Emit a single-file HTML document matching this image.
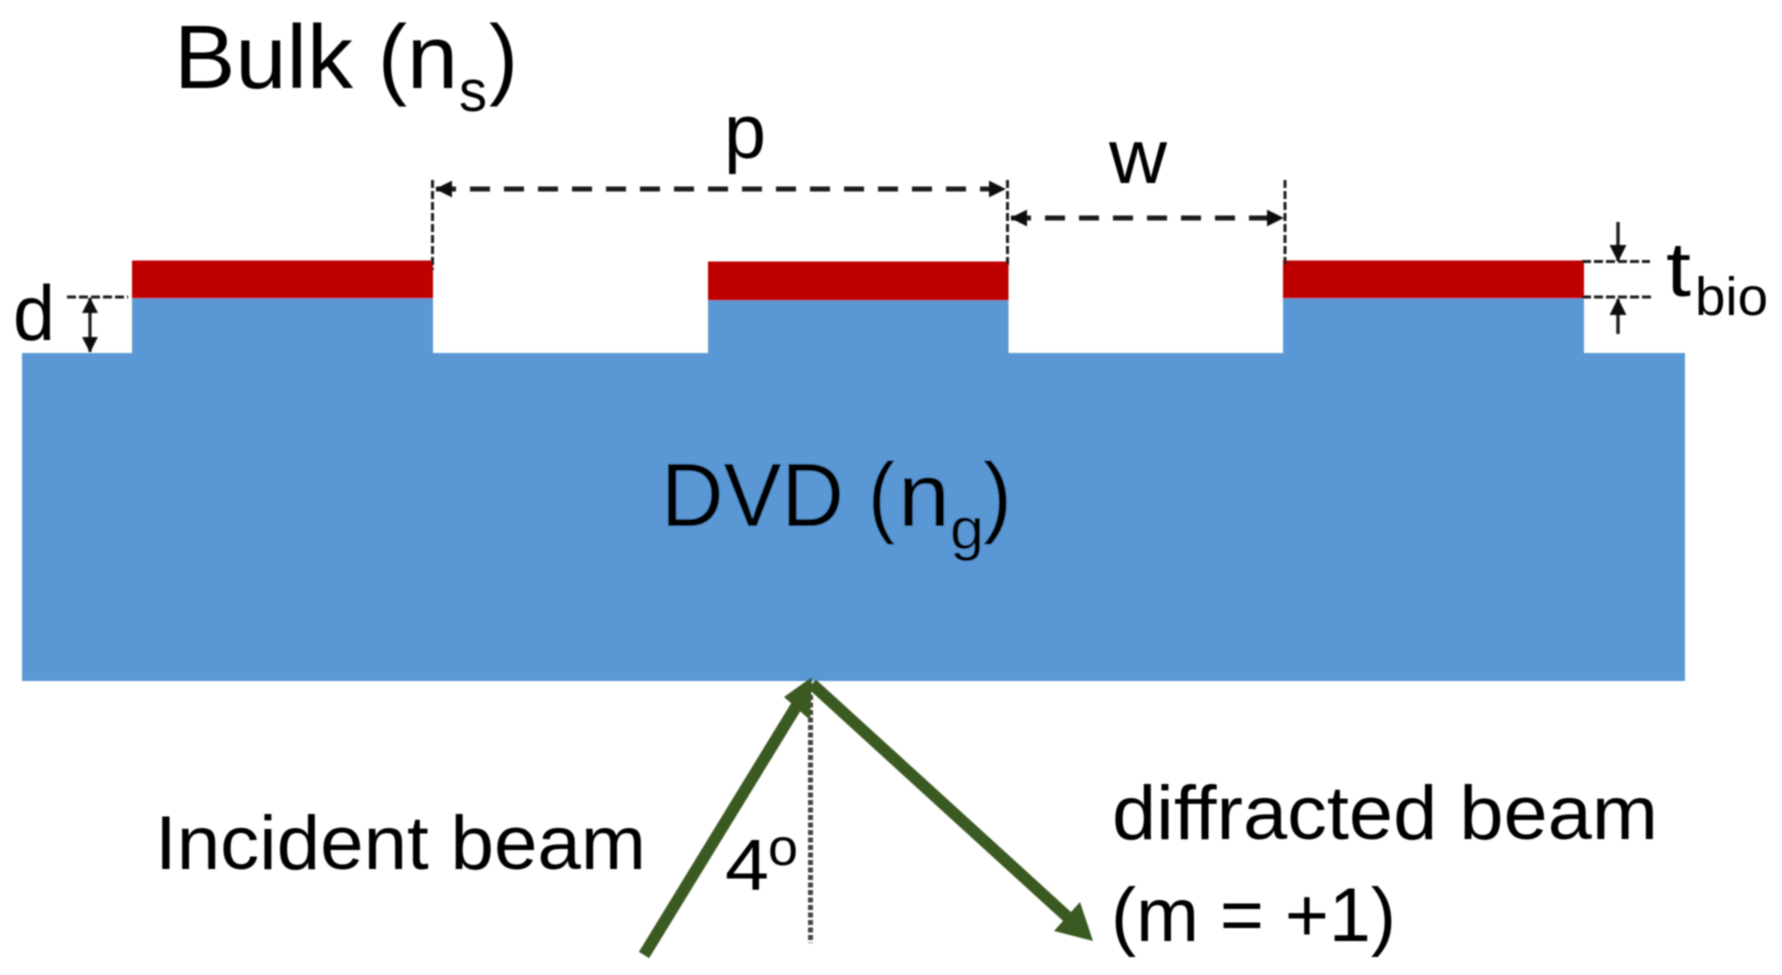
<!DOCTYPE html>
<html>
<head>
<meta charset="utf-8">
<style>
html,body{margin:0;padding:0;background:#fff;width:1782px;height:975px;overflow:hidden}
svg{display:block}
text{font-family:"Liberation Sans",sans-serif;fill:#000}
</style>
</head>
<body>
<svg width="1782" height="975" viewBox="0 0 1782 975" xmlns="http://www.w3.org/2000/svg">
<defs>
<filter id="b" x="-5%" y="-5%" width="110%" height="110%"><feGaussianBlur stdDeviation="0.7"/></filter>
<marker id="ah" viewBox="0 0 10 10" refX="9.5" refY="5" markerWidth="3.4" markerHeight="3.4" orient="auto-start-reverse"><path d="M0 0L10 5L0 10Z" fill="#111"/></marker>
<marker id="as" viewBox="0 0 10 10" refX="9.5" refY="5" markerWidth="5" markerHeight="5" orient="auto-start-reverse"><path d="M0 0L10 5L0 10Z" fill="#111"/></marker>
</defs>
<rect width="1782" height="975" fill="#fff"/>
<g filter="url(#b)">
<!-- substrate -->
<path d="M22 353H132V298H433V353H708V300H1008.5V353H1283V298H1584V353H1685V681H22Z" fill="#5a98d5"/>
<rect x="132" y="260.5" width="301" height="38" fill="#bf0000"/>
<rect x="708" y="261.5" width="300.5" height="39" fill="#bf0000"/>
<rect x="1283" y="260.5" width="301" height="38" fill="#bf0000"/>

<!-- dashed guides -->
<g fill="none" stroke="#1a1a1a">
<path d="M432.5 180V270M1007.5 180V268M1285 180V268" stroke-width="3" stroke-dasharray="8 3"/>
<path d="M436 189H1005" stroke-width="5" stroke-dasharray="20 14" marker-start="url(#ah)" marker-end="url(#ah)"/>
<path d="M1011 218H1283" stroke-width="5" stroke-dasharray="20 14" marker-start="url(#ah)" marker-end="url(#ah)"/>
<path d="M67 297H128" stroke-width="3" stroke-dasharray="9 3"/>
<path d="M90 298V352" stroke-width="3.2" marker-start="url(#as)" marker-end="url(#as)"/>
<path d="M1582 261.5H1650M1582 297H1651" stroke-width="3" stroke-dasharray="9 3"/>
<path d="M1618 222V261" stroke-width="3.4" marker-end="url(#as)"/>
<path d="M1618 334V299" stroke-width="3.4" marker-end="url(#as)"/>
</g>

<!-- normal line -->
<path d="M810.5 695V943" fill="none" stroke="#444" stroke-width="5" stroke-dasharray="5 2.5"/>

<!-- beams -->
<g fill="none" stroke="#3b5a24" stroke-width="12">
<path d="M644 955L802 697"/>
<path d="M812 684L1072 921"/>
</g>
<path d="M812 677L784 697L810 720Z" fill="#3b5a24"/>
<path d="M1093 941L1054 931L1080 902Z" fill="#3b5a24"/>

<!-- labels -->
<text x="174" y="88" font-size="90" textLength="179" lengthAdjust="spacingAndGlyphs">Bulk</text>
<text x="378" y="88" font-size="90" textLength="29" lengthAdjust="spacingAndGlyphs">(</text>
<text x="407" y="88" font-size="90" textLength="51" lengthAdjust="spacingAndGlyphs">n</text>
<text x="459" y="111" font-size="58" textLength="28" lengthAdjust="spacingAndGlyphs">s</text>
<text x="489" y="88" font-size="90" textLength="29" lengthAdjust="spacingAndGlyphs">)</text>

<text x="724" y="158" font-size="77" textLength="42" lengthAdjust="spacingAndGlyphs">p</text>
<text x="1109" y="183" font-size="77" textLength="58" lengthAdjust="spacingAndGlyphs">w</text>
<text x="13" y="340" font-size="78" textLength="42" lengthAdjust="spacingAndGlyphs">d</text>
<text x="1666" y="296" font-size="77" textLength="25" lengthAdjust="spacingAndGlyphs">t</text>
<text x="1695" y="315" font-size="54" textLength="73" lengthAdjust="spacingAndGlyphs">bio</text>

<text x="661" y="526" font-size="90" textLength="183" lengthAdjust="spacingAndGlyphs">DVD</text>
<text x="868" y="526" font-size="90" textLength="27" lengthAdjust="spacingAndGlyphs">(</text>
<text x="898" y="526" font-size="90" textLength="52" lengthAdjust="spacingAndGlyphs">n</text>
<text x="950" y="549" font-size="58" textLength="34" lengthAdjust="spacingAndGlyphs">g</text>
<text x="983" y="526" font-size="90" textLength="29" lengthAdjust="spacingAndGlyphs">)</text>

<text x="155" y="869" font-size="76" textLength="491" lengthAdjust="spacingAndGlyphs">Incident beam</text>
<text x="725" y="890" font-size="72" textLength="44" lengthAdjust="spacingAndGlyphs">4</text>
<text x="768" y="865" font-size="52" textLength="30" lengthAdjust="spacingAndGlyphs">o</text>
<text x="1112" y="839" font-size="76" textLength="546" lengthAdjust="spacingAndGlyphs">diffracted beam</text>
<text x="1111" y="941" font-size="76" textLength="285" lengthAdjust="spacingAndGlyphs">(m = +1)</text>
</g>
</svg>
</body>
</html>
